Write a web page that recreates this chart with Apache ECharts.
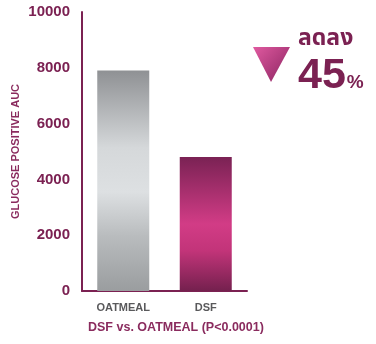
<!DOCTYPE html>
<html>
<head>
<meta charset="utf-8">
<script src="https://cdn.jsdelivr.net/npm/echarts@6/dist/echarts.min.js"></script>
<style>
  html, body { margin: 0; padding: 0; background: #fff; }
  #chart { width: 376px; height: 344px; }
</style>
</head>
<body>
<div id="chart"></div>
<script>
// Glucose positive AUC by meal
const categories = ['OATMEAL', 'DSF'];
const aucValues = [7900, 4800];
const yTicks = [0, 2000, 4000, 6000, 8000, 10000];
const reductionLabel = 'ลดลง';
const reductionPct = '45';

const maroon = '#7b2152';
const sansFont = 'Liberation Sans, Arial, sans-serif';

const grayFill = new echarts.graphic.LinearGradient(0, 0, 0, 1, [
  { offset: 0, color: '#8f9194' },
  { offset: 0.35, color: '#d5d8da' },
  { offset: 0.55, color: '#dde0e2' },
  { offset: 0.75, color: '#b9bcbe' },
  { offset: 1, color: '#9a9d9f' }
]);
const pinkFill = new echarts.graphic.LinearGradient(0, 0, 0, 1, [
  { offset: 0, color: '#7a2254' },
  { offset: 0.5, color: '#d23c86' },
  { offset: 0.7, color: '#c23479' },
  { offset: 1, color: '#74204e' }
]);

const chart = echarts.init(document.getElementById('chart'), null, { renderer: 'canvas' });
chart.setOption({
  animation: false,
  grid: { left: 82, right: 129, top: 12, bottom: 53 },
  xAxis: {
    type: 'category',
    data: categories,
    axisLine: { lineStyle: { color: maroon, width: 2 } },
    axisTick: { show: false },
    axisLabel: {
      color: '#59595b', fontFamily: sansFont,
      fontWeight: 'bold', fontSize: 11, margin: 11
    }
  },
  yAxis: {
    type: 'value',
    min: yTicks[0],
    max: yTicks[yTicks.length - 1],
    interval: yTicks[1] - yTicks[0],
    name: 'GLUCOSE POSITIVE AUC',
    nameLocation: 'middle',
    nameRotate: 90,
    nameGap: 61,
    nameTextStyle: {
      color: '#8a2b5e', fontFamily: sansFont,
      fontWeight: 'bold', fontSize: 11
    },
    axisLine: { show: true, lineStyle: { color: maroon, width: 2 } },
    axisTick: { show: false },
    splitLine: { show: false },
    axisLabel: {
      color: maroon, fontFamily: sansFont,
      fontWeight: 'bold', fontSize: 15, margin: 12,
      formatter: v => String(v)
    }
  },
  series: [{
    type: 'bar',
    barWidth: 52,
    data: aucValues.map((v, i) => ({
      value: v,
      itemStyle: { color: i === 0 ? grayFill : pinkFill }
    }))
  }],
  graphic: [
    {
      type: 'text', left: 88, top: 321,
      style: {
        text: 'DSF vs. OATMEAL (P<0.0001)', fill: '#8a2b5e',
        font: 'bold 12.5px "Liberation Sans", Arial, sans-serif'
      }
    },
    {
      type: 'polygon',
      shape: { points: [[253, 47], [290, 47], [271, 82]] },
      style: {
        fill: new echarts.graphic.LinearGradient(0, 0, 1, 1, [
          { offset: 0, color: '#e05aa0' },
          { offset: 1, color: '#8a2360' }
        ])
      }
    },
    {
      type: 'text', left: 298, top: 29,
      style: {
        text: reductionLabel, fill: maroon,
        font: 'bold 23px "Noto Sans Thai", "Noto Sans", "DejaVu Sans", sans-serif'
      }
    },
    {
      type: 'text', left: 298, top: 55,
      style: {
        rich: {
          n: { fontSize: 43, fontWeight: 'bold', fill: maroon, fontFamily: sansFont },
          p: { fontSize: 19, fontWeight: 'bold', fill: maroon, fontFamily: sansFont, verticalAlign: 'bottom', padding: [0, 0, 6, 1] }
        },
        text: '{n|' + reductionPct + '}{p|%}'
      }
    }
  ]
});
</script>
</body>
</html>
